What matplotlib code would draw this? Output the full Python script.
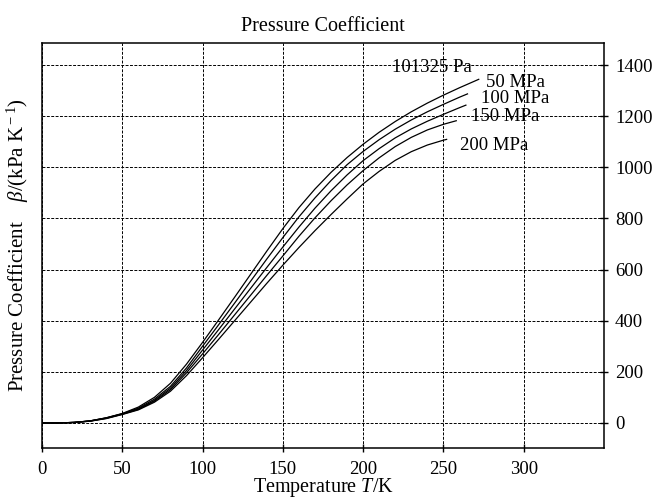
import matplotlib
matplotlib.use("Agg")
import matplotlib.pyplot as plt

plt.rcParams["font.family"] = ["Liberation Serif", "DejaVu Serif"]
plt.rcParams["mathtext.fontset"] = "custom"
plt.rcParams["mathtext.rm"] = "Liberation Serif"
plt.rcParams["mathtext.it"] = "Liberation Serif:italic"

# temperature grid (K) and pressure coefficient (kPa/K)
temp = [0, 10, 20, 30, 40, 50, 60, 70, 80, 90, 100, 110, 120, 130, 140, 150,
        160, 170, 180, 190, 200, 210, 220, 230, 240, 250, 260]

beta_atm = [0, 0, 2, 8, 20, 37, 62, 100, 155, 230, 315, 403, 492, 582, 672, 760,
            842, 915, 980, 1038, 1090, 1137, 1179, 1217, 1251, 1282, 1311]
beta_50 = [0, 0, 2, 8, 20, 36, 58, 93, 143, 215, 300, 384, 469, 555, 641, 725,
           806, 880, 948, 1010, 1062, 1108, 1149, 1185, 1217, 1246, 1274]
beta_100 = [0, 0, 2, 8, 19, 35, 55, 88, 136, 205, 285, 365, 446, 527, 608, 688,
            766, 840, 908, 970, 1026, 1073, 1115, 1150, 1180, 1207, 1233]
beta_150 = [0, 0, 2, 7, 18, 34, 53, 85, 130, 196, 270, 346, 423, 500, 577, 653,
            730, 802, 869, 931, 987, 1037, 1081, 1117, 1146, 1168]
beta_200 = [0, 0, 2, 7, 17, 33, 51, 81, 124, 185, 255, 327, 400, 473, 546, 617,
            686, 752, 815, 876, 935, 984, 1027, 1061, 1087, 1106]

# last point of each curve
end_T = [272, 265, 264, 258, 252]
end_beta = [1344, 1287, 1243, 1182, 1109]

labels = ["101325 Pa", "50 MPa", "100 MPa", "150 MPa", "200 MPa"]
label_T = [243, 295, 294.5, 288.6, 281.8]
label_beta = [1390, 1332, 1270, 1197, 1087]

series = [beta_atm, beta_50, beta_100, beta_150, beta_200]

fig = plt.figure(figsize=(6.55, 4.99), dpi=100)
ax = fig.add_axes([0.0641, 0.1022, 0.858, 0.8116])

for vals, tx, bx in zip(series, end_T, end_beta):
    xs = temp[:len(vals)] + [tx]
    ys = vals + [bx]
    ax.plot(xs, ys, color="black", lw=0.9)

for lab, tx, by in zip(labels, label_T, label_beta):
    ax.text(tx, by, lab, ha="center", va="center", fontsize=13.5)

ax.set_xlim(0, 350)
ax.set_ylim(-98, 1486)
ax.set_xticks([0, 50, 100, 150, 200, 250, 300])
ax.set_yticks([0, 200, 400, 600, 800, 1000, 1200, 1400])

ax.grid(True, color="black", linestyle=(0, (3, 1.5)), lw=0.7)

ax.yaxis.tick_right()
ax.tick_params(axis="both", direction="inout", length=6, width=1, labelsize=13.5)
ax.tick_params(axis="x", pad=6)
ax.tick_params(axis="y", pad=5)

for s in ax.spines.values():
    s.set_linewidth(1.1)

ax.set_title("Pressure Coefficient", fontsize=14.5, pad=9)
ax.set_xlabel("Temperature $T$/K", fontsize=14.5, labelpad=-1)
ax.yaxis.set_label_position("left")
ax.set_ylabel(r"Pressure Coefficient    $\beta$/(kPa K$^{\rm -1}$)", fontsize=15, labelpad=8)

fig.savefig("out.png", dpi=100)
